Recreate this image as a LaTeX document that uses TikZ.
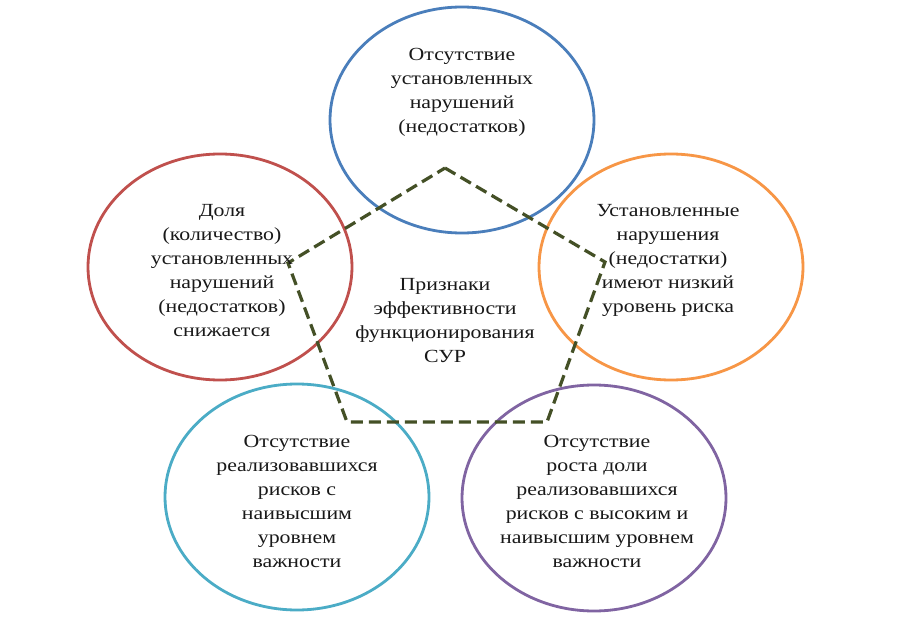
\documentclass[tikz,border=0pt]{standalone}
\usepackage{fontspec}
\setmainfont{Liberation Serif}[FakeStretch=1.18]
\usetikzlibrary{shapes.geometric}
\definecolor{cblue}{RGB}{74,126,187}
\definecolor{cred}{RGB}{192,80,77}
\definecolor{corange}{RGB}{247,150,70}
\definecolor{ccyan}{RGB}{75,172,198}
\definecolor{cpurple}{RGB}{128,100,162}
\definecolor{colive}{RGB}{68,80,38}
\begin{document}
\begin{tikzpicture}[x=1pt,y=-1pt,
  oval/.style={draw, line width=2.8pt, ellipse, minimum width=264pt, minimum height=226pt, inner sep=0pt},
  lbl/.style={align=center, inner sep=0pt, text=black!90, font=\fontsize{18.5}{24}\selectfont},
  pent/.style={draw=colive, line width=3.2pt, dash pattern=on 12pt off 6pt, line join=miter}]
\useasboundingbox[fill=white] (0,0) rectangle (900,626);
% ellipses
\node[oval, draw=cblue] (e1) at (462,120) {};
\node[oval, draw=cred] (e2) at (220,267) {};
\node[oval, draw=corange] (e3) at (671,267) {};
\node[oval, draw=ccyan] (e4) at (297,497) {};
\node[oval, draw=cpurple] (e5) at (594,498) {};
% pentagon
\coordinate (p1) at (445,168);
\coordinate (p2) at (605,262);
\coordinate (p3) at (547,422);
\coordinate (p4) at (347,422);
\coordinate (p5) at (288,263);
\draw[pent] (p1) -- (p2) -- (p3) -- (p4) -- (p5) -- cycle;
% labels
\node[lbl] (t1) at (462,92) {Отсутствие\\установленных\\нарушений\\(недостатков)};
\node[lbl] (t2) at (222,271) {Доля\\(количество)\\установленных\\нарушений\\(недостатков)\\снижается};
\node[lbl] (t3) at (668,260) {Установленные\\нарушения\\(недостатки)\\имеют низкий\\уровень риска};
\node[lbl] (t4) at (297,501) {Отсутствие\\реализовавшихся\\рисков с\\наивысшим\\уровнем\\важности};
\node[lbl] (t5) at (597,501) {Отсутствие\\роста доли\\реализовавшихся\\рисков с высоким и\\наивысшим уровнем\\важности};
\node[lbl] (t0) at (445,321) {Признаки\\эффективности\\функционирования\\СУР};
\end{tikzpicture}
\end{document}
